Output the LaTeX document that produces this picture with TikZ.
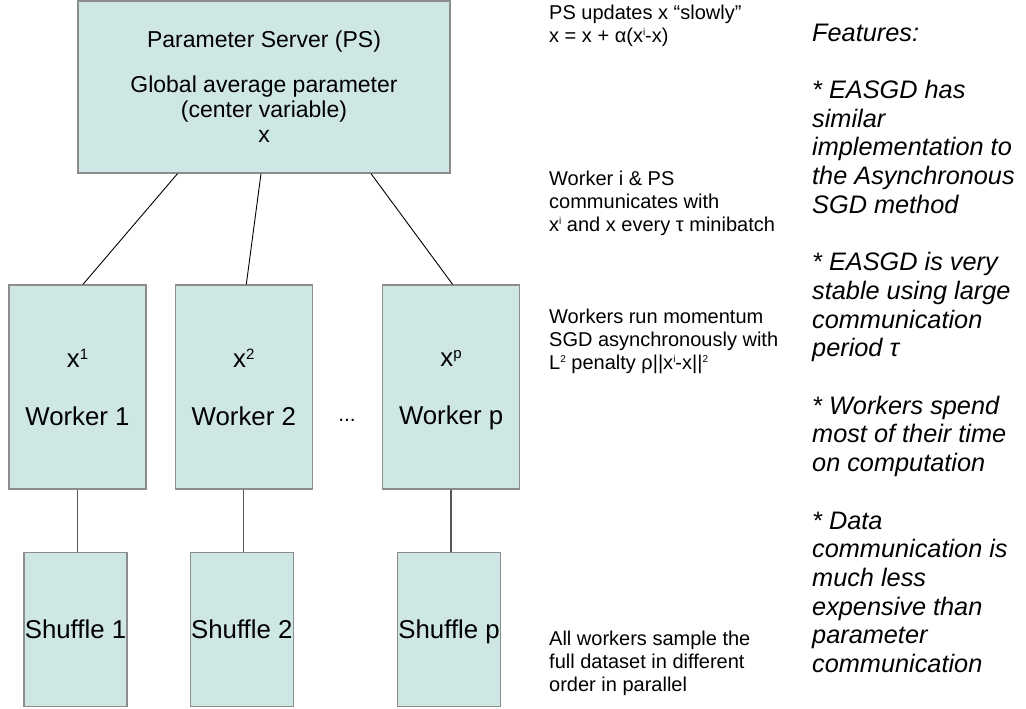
\documentclass[tikz,border=0pt]{standalone}
\usepackage{fontspec}
\setmainfont{Liberation Sans}
\usetikzlibrary{positioning,calc}
\definecolor{boxfill}{RGB}{207,231,228}
\definecolor{boxedge}{RGB}{140,140,140}
\definecolor{feedline}{RGB}{85,85,85}
% small raised index, e.g. x^i
\newcommand{\supx}[2]{\raisebox{0.32em}{\fontsize{#1}{#1}\selectfont #2}}
\tikzset{
  box/.style={draw=boxedge, fill=boxfill, line width=1.3pt, inner sep=0pt, align=center},
  server/.style={box, minimum width=372pt, minimum height=172pt,
    font=\fontsize{23}{25}\selectfont},
  worker/.style={box, minimum width=137pt, minimum height=204pt, text depth=0pt,
    font=\fontsize{25.8}{29.7}\selectfont},
  shuffle/.style={box, minimum width=103pt, minimum height=154pt, text depth=0pt,
    font=\fontsize{25.8}{29.7}\selectfont},
  note/.style={anchor=north west, inner sep=0pt, align=left,
    font=\fontsize{20}{23}\selectfont},
  link/.style={black, line width=0.9pt},
  feed/.style={feedline, line width=1.3pt}
}

\begin{document}
\begin{tikzpicture}[x=1pt,y=-1pt]
    \useasboundingbox (0,0) rectangle (1026,709);

    \node[server] (ps) at (264,87) {Parameter Server (PS)\\[20pt]Global average parameter\\(center variable)\\x};

    \node[worker] (w1) at (77.5,387) {x\supx{15pt}{1}\\[28pt]Worker 1};
    \node[worker, right=28pt of w1] (w2) {x\supx{15pt}{2}\\[28pt]Worker 2};
    \node[worker, right=69pt of w2] (wp) {x\supx{15pt}{p}\\[28pt]Worker p};
    \node[font=\fontsize{21}{24}\selectfont, anchor=base] (dots) at (347,421) {...};

    \node[shuffle, below=62pt of w1, xshift=-2pt] (s1) {Shuffle 1};
    \node[shuffle, below=62pt of w2, xshift=-2pt] (s2) {Shuffle 2};
    \node[shuffle, below=62pt of wp, xshift=-2pt] (sp) {Shuffle p};

    % server to workers
    \draw[link] ([xshift=-86.5pt]ps.south) -- ([xshift=5.5pt]w1.north);
    \draw[link] ([xshift=-3pt]ps.south) -- ([xshift=2.5pt]w2.north);
    \draw[link] ([xshift=107pt]ps.south) -- ([xshift=1.5pt]wp.north);

    % workers to their data
    \draw[feed] (w1.south) -- (w1.south |- s1.north);
    \draw[feed] (w2.south) -- (w2.south |- s2.north);
    \draw[feed] (wp.south) -- (wp.south |- sp.north);

    \node[note] (upd) at (549,4.5) {PS updates x “slowly”\\x = x + α(x\supx{10pt}{i}-x)};
    \node[note] (comm) at (549,170.4) {Worker i \& PS\\communicates with\\x\supx{10pt}{i} and x every τ minibatch};
    \node[note] (run) at (549,308.4) {Workers run momentum\\SGD asynchronously with\\L\supx{10pt}{2} penalty ρ||x\supx{10pt}{i}-x||\supx{10pt}{2}};
    \node[note] (data) at (549,630.4) {All workers sample the\\full dataset in different\\order in parallel};

    \node[note, font=\itshape\fontsize{25.3}{28.7}\selectfont] (feat) at (812,23.5)
      {Features:\\[28.7pt]* EASGD has\\similar\\implementation to\\the Asynchronous\\SGD method\\[28.7pt]
       * EASGD is very\\stable using large\\communication\\period τ\\[28.7pt]
       * Workers spend\\most of their time\\on computation\\[28.7pt]
       * Data\\communication is\\much less\\expensive than\\parameter\\communication};
\end{tikzpicture}
\end{document}
